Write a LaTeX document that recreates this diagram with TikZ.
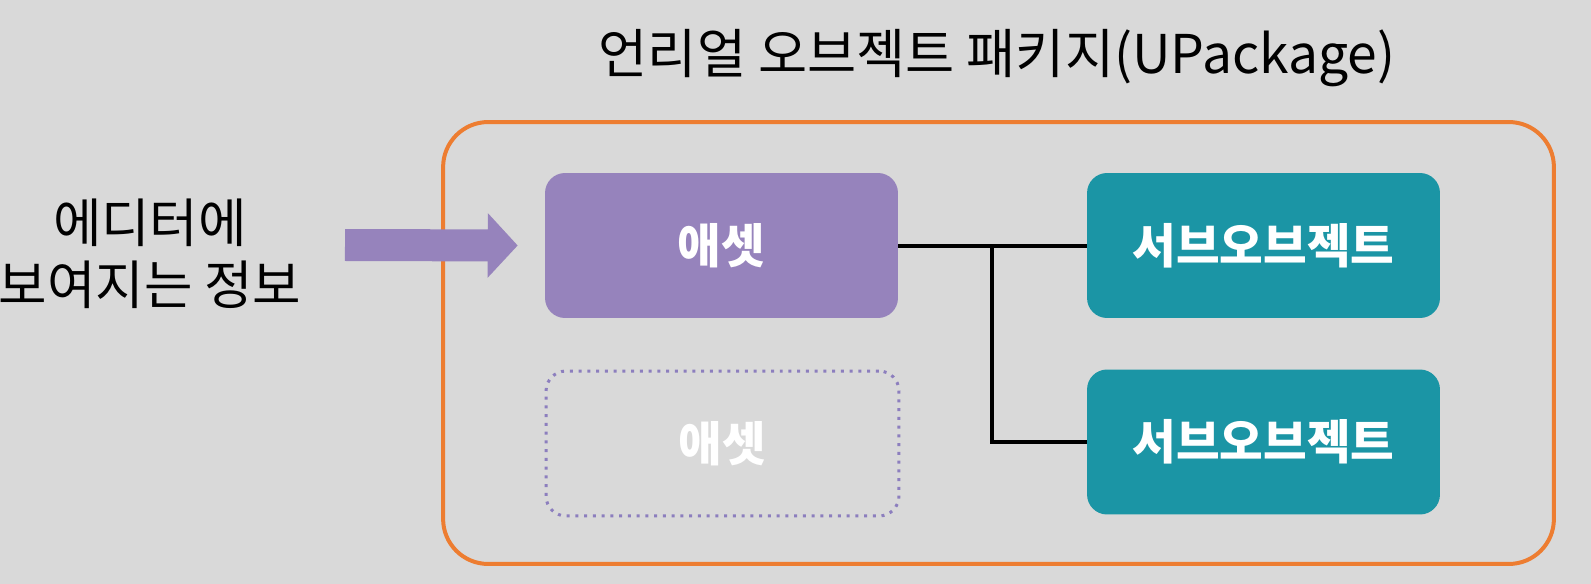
\documentclass[tikz,border=0pt]{standalone}
\usepackage{fontspec}
\setmainfont{Noto Sans CJK KR}
\usetikzlibrary{arrows.meta,positioning}
\definecolor{bgGray}{RGB}{217,217,217}
\definecolor{assetPurple}{RGB}{150,131,188}
\definecolor{dotPurple}{RGB}{140,126,190}
\definecolor{subTeal}{RGB}{27,149,165}
\definecolor{pkgOrange}{RGB}{237,125,49}

\begin{document}
\begin{tikzpicture}[x=0.02cm, y=-0.02cm,
    box/.style={rounded corners=0.4cm, fill=#1, minimum width=7.06cm,
                minimum height=2.9cm, align=center, text=white,
                font=\fontsize{27}{30}\selectfont\bfseries},
    ghostbox/.style={draw=dotPurple, line width=0.06cm, dash pattern=on 0.06cm off 0.115cm,
                rounded corners=0.4cm, minimum width=7.06cm, minimum height=2.9cm,
                text=white, font=\fontsize{27}{30}\selectfont\bfseries},
    link/.style={line width=0.08cm, black},
    bigarrow/.style={line width=0.64cm, assetPurple,
                -{Triangle[length=0.6cm,width=1.26cm]}}]

  %% page and background
  \fill[bgGray] (0,0) rectangle (1591,584);
  \useasboundingbox (0,0) rectangle (1591,584);

  %% package frame and title
  \node[draw=pkgOrange, line width=0.08cm, rounded corners=0.9cm,
        minimum width=22.22cm, minimum height=8.84cm] (pkg) at (998.5,343) {};
  \node[font=\fontsize{30.4}{34}\selectfont] (title) at (997,58)
    {언리얼 오브젝트 패키지(UPackage)};

  %% editor label
  \node[align=center, font=\fontsize{30}{35}\selectfont] (editor) at (150,254)
    {에디터에\\보여지는 정보};

  %% assets
  \node[box=assetPurple] (asset) at (721.5,245.5) {애셋};
  \node[ghostbox] (ghost) at (722.5,443.5) {애셋};

  %% sub-objects
  \node[box=subTeal] (sub1) at (1263.5,245.5) {서브오브젝트};
  \node[box=subTeal] (sub2) at (1263.5,442) {서브오브젝트};

  %% connectors
  \coordinate (start) at (345,245);
  \coordinate (jn) at (992,245.5);
  \draw[bigarrow] (start) -- ([xshift=-0.54cm]asset.west);
  \draw[link] (asset.east) -- (sub1.west);
  \draw[link] (jn) |- (sub2.west);

\end{tikzpicture}
\end{document}
